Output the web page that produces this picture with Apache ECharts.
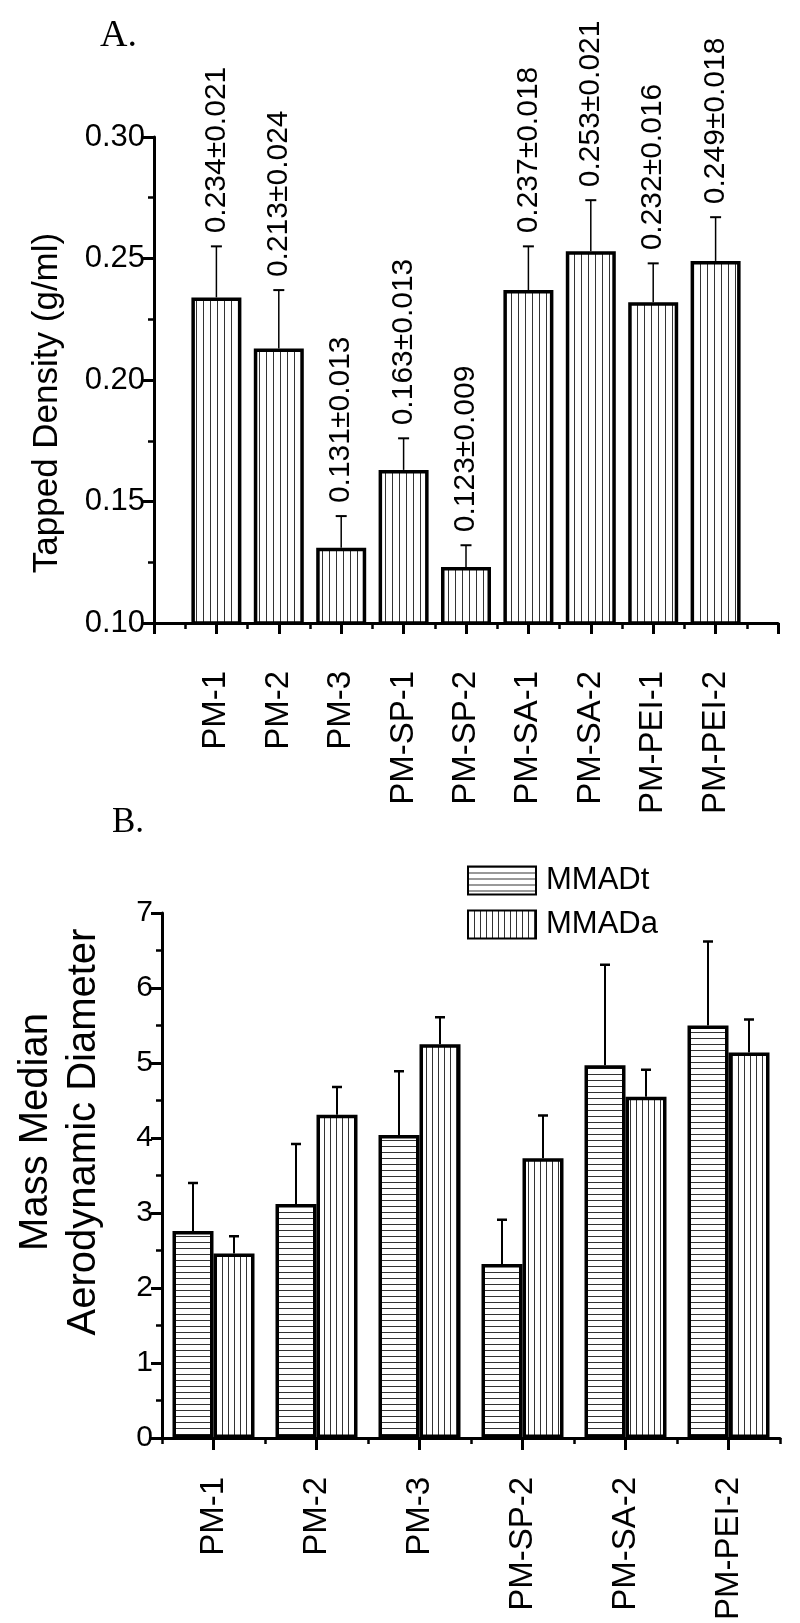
<!DOCTYPE html>
<html><head><meta charset="utf-8">
<script src="https://cdn.jsdelivr.net/npm/echarts@6/dist/echarts.min.js"></script>
<style>html,body{margin:0;padding:0;background:#fff}#c{width:800px;height:1623px}</style>
</head><body><div id="c"></div>
<script>
// ---- Data ----
const catsA = ['PM-1','PM-2','PM-3','PM-SP-1','PM-SP-2','PM-SA-1','PM-SA-2','PM-PEI-1','PM-PEI-2'];
const densityMean = [0.234,0.213,0.131,0.163,0.123,0.237,0.253,0.232,0.249];
const densitySD   = [0.021,0.024,0.013,0.013,0.009,0.018,0.021,0.016,0.018];

const catsB = ['PM-1','PM-2','PM-3','PM-SP-2','PM-SA-2','PM-PEI-2'];
const mmadT    = [2.76,3.12,4.04,2.32,4.97,5.50];
const mmadTErr = [0.64,0.80,0.85,0.59,1.34,1.12];
const mmadA    = [2.46,4.31,5.25,3.73,4.55,5.14];
const mmadAErr = [0.23,0.37,0.36,0.57,0.36,0.44];

const yRangeA = {min:0.10, max:0.30, step:0.05};
const yRangeB = {min:0, max:7, step:1};

// ---- Styles ----
const SANS = '"Liberation Sans", Arial, sans-serif';
const SERIF = '"Liberation Serif", "Times New Roman", serif';
function hatch(vertical, step, color) {
  const c = document.createElement('canvas');
  c.width = step; c.height = step;
  const g = c.getContext('2d');
  g.fillStyle = '#fff'; g.fillRect(0,0,step,step);
  g.fillStyle = color;
  if (vertical) g.fillRect(0,0,1,step); else g.fillRect(0,0,step,1);
  return {image: c, repeat: 'repeat'};
}
const axisLineStyle = {color:'#000', width:3};
const tickStyle = {color:'#000', width:3};
const minorStyle = {color:'#000', width:2.5};

function errRender(offset, capHalf, lw, withLabel) {
  return function (params, api) {
    const x = api.value(0), m = api.value(1), e = api.value(2);
    const p0 = api.coord([x, m]);
    const p1 = api.coord([x, m + e]);
    const cx = p0[0] + offset;
    const children = [
      {type:'line', shape:{x1:cx, y1:p0[1], x2:cx, y2:p1[1]}, style:{stroke:'#000', lineWidth:lw}},
      {type:'line', shape:{x1:cx-capHalf, y1:p1[1], x2:cx+capHalf, y2:p1[1]}, style:{stroke:'#000', lineWidth:lw+0.5}}
    ];
    if (withLabel) {
      children.push({type:'text', x:cx, y:p1[1]-13, rotation:Math.PI/2,
        style:{text: m.toFixed(3) + '\u00B1' + e.toFixed(3), font:'30px ' + SANS, fill:'#000',
               align:'left', verticalAlign:'middle', textAlign:'left', textVerticalAlign:'middle'}});
    }
    return {type:'group', children};
  };
}

const chart = echarts.init(document.getElementById('c'), null, {renderer:'canvas'});
chart.setOption({
  animation:false,
  backgroundColor:'#fff',
  textStyle:{fontFamily:SANS, color:'#000'},
  grid:[
    {left:154, top:137, width:624, height:486},
    {left:162, top:913, width:618, height:537}
  ],
  xAxis:[
    {gridIndex:0, type:'value', min:0, max:catsA.length+1, interval:1,
     axisLine:{show:true, lineStyle:axisLineStyle},
     axisTick:{show:true, length:11, lineStyle:tickStyle},
     minorTick:{show:true, splitNumber:2, length:6, lineStyle:minorStyle},
     splitLine:{show:false}, minorSplitLine:{show:false},
     axisLabel:{rotate:90, margin:48, fontSize:33, color:'#000', fontFamily:SANS,
       showMinLabel:true, showMaxLabel:true,
       formatter:v => catsA[Math.round(v)-1] || ''}},
    {gridIndex:1, type:'category', data:catsB, position:'bottom',
     axisLine:{show:true, lineStyle:axisLineStyle},
     axisTick:{show:true, alignWithLabel:true, length:12, lineStyle:tickStyle},
     axisLabel:{rotate:90, margin:39, fontSize:33, color:'#000', interval:0, fontFamily:SANS},
     splitLine:{show:false}},
    {gridIndex:1, type:'category', data:catsB, position:'bottom',
     axisLine:{show:false}, axisTick:{show:true, length:6, lineStyle:minorStyle},
     axisLabel:{show:false}, splitLine:{show:false}}
  ],
  yAxis:[
    {gridIndex:0, type:'value', min:yRangeA.min, max:yRangeA.max, interval:yRangeA.step,
     axisLine:{show:true, lineStyle:axisLineStyle},
     axisTick:{show:true, length:11, lineStyle:tickStyle},
     minorTick:{show:true, splitNumber:2, length:6, lineStyle:minorStyle},
     splitLine:{show:false}, minorSplitLine:{show:false},
     axisLabel:{fontSize:31, margin:9, color:'#000', fontFamily:SANS, formatter:v => v.toFixed(2)}},
    {gridIndex:1, type:'value', min:yRangeB.min, max:yRangeB.max, interval:yRangeB.step,
     axisLine:{show:true, lineStyle:axisLineStyle},
     axisTick:{show:true, length:11, lineStyle:tickStyle},
     minorTick:{show:true, splitNumber:2, length:6, lineStyle:minorStyle},
     splitLine:{show:false}, minorSplitLine:{show:false},
     axisLabel:{fontSize:30, margin:9, color:'#000', fontFamily:SANS}}
  ],
  legend:{data:['MMADt','MMADa'], orient:'vertical', left:467, top:865, padding:0,
    itemWidth:68, itemHeight:28, itemGap:13, icon:'rect',
    textStyle:{fontSize:31, color:'#000', fontFamily:SANS, padding:[0,0,0,5]}},
  series:[
    {type:'bar', xAxisIndex:0, yAxisIndex:0, barWidth:50, clip:true,
     data:densityMean.map((v,i) => [i+1, v]),
     itemStyle:{color:hatch(true,7,'#333'), borderColor:'#000', borderWidth:3.5}},
    {type:'custom', xAxisIndex:0, yAxisIndex:0, z:5,
     data:densityMean.map((v,i) => [i+1, v, densitySD[i]]),
     encode:{x:0, y:1}, renderItem:errRender(0, 5.5, 1.5, true)},
    {type:'bar', name:'MMADt', xAxisIndex:1, yAxisIndex:1, barWidth:41, barGap:'0%',
     data:mmadT,
     itemStyle:{color:hatch(false,6,'#333'), borderColor:'#000', borderWidth:3.5}},
    {type:'bar', name:'MMADa', xAxisIndex:1, yAxisIndex:1, barWidth:41, barGap:'0%',
     data:mmadA,
     itemStyle:{color:hatch(true,6,'#333'), borderColor:'#000', borderWidth:3.5}},
    {type:'custom', xAxisIndex:1, yAxisIndex:1, z:5,
     data:mmadT.map((v,i) => [i, v, mmadTErr[i]]),
     encode:{x:0, y:1}, renderItem:errRender(-20.5, 5, 2, false)},
    {type:'custom', xAxisIndex:1, yAxisIndex:1, z:5,
     data:mmadA.map((v,i) => [i, v, mmadAErr[i]]),
     encode:{x:0, y:1}, renderItem:errRender(20.5, 5, 2, false)}
  ],
  graphic:[
    {type:'text', left:100, top:17, style:{text:'A.', font:'38px ' + SERIF, fill:'#000'}},
    {type:'text', left:112, top:805, style:{text:'B.', font:'35px ' + SERIF, fill:'#000'}},
    {type:'text', x:47, y:403, rotation:Math.PI/2,
     style:{text:'Tapped Density (g/ml)', font:'35px ' + SANS, fill:'#000',
            align:'center', verticalAlign:'middle', textAlign:'center', textVerticalAlign:'middle'}},
    {type:'text', x:60, y:1132, rotation:Math.PI/2,
     style:{text:'Mass Median\nAerodynamic Diameter', font:'40px ' + SANS, fill:'#000', lineHeight:48,
            align:'center', verticalAlign:'middle', textAlign:'center', textVerticalAlign:'middle'}}
  ]
});
</script>
</body></html>
